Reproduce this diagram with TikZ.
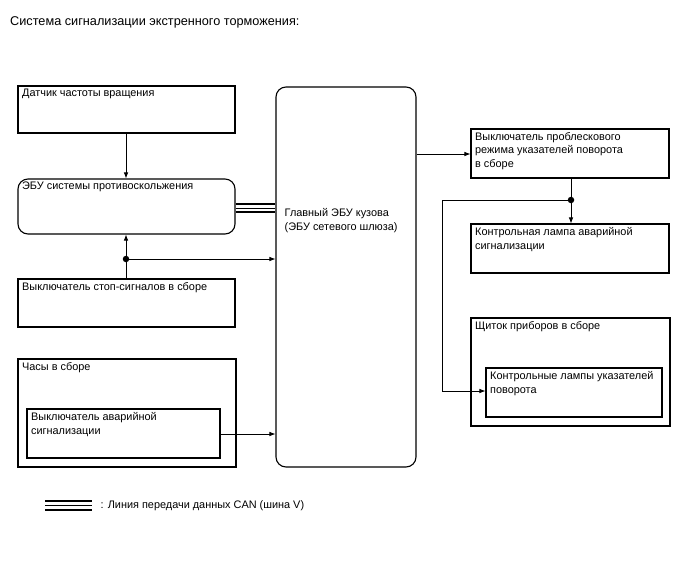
\documentclass[tikz,border=0pt]{standalone}
\usepackage{fontspec}
\setmainfont{Liberation Sans}
\usetikzlibrary{positioning,arrows.meta,calc}
\newcommand{\boxfont}{\fontsize{10.9}{13.8}\selectfont}
\tikzset{
  box/.style={draw, line width=1.1pt, inner sep=0pt},
  ecu/.style={box, rounded corners=10pt},
  lbl/.style={font=\boxfont, anchor=north west, align=left, inner sep=3pt, xshift=1.5pt, yshift=-0.5pt},
  conn/.style={-{Latex[length=6pt,width=4.5pt]}, line width=0.7pt},
  wire/.style={line width=0.7pt},
  canthick/.style={line width=1.4pt},
  canthin/.style={line width=0.8pt},
  jdot/.style={circle, fill, inner sep=0pt, minimum size=6.5pt},
}

\begin{document}
\begin{tikzpicture}[x=1pt, y=-1pt]
\useasboundingbox (0,0) rectangle (688,560);

%% ---- title
\node[anchor=west, inner sep=0pt, font=\fontsize{12.7}{14}\selectfont] (title) at (10,22)
  {Система сигнализации экстренного торможения:};

%% ---- left column
\node[box, minimum width=217pt, minimum height=47pt,
  label={[lbl]north west:Датчик частоты вращения}] (dat) at (126.5,109.5) {};
\node[ecu, minimum width=217pt, minimum height=55pt,
  label={[lbl]north west:ЭБУ системы противоскольжения}] (abs) at (126.5,206.5) {};
\node[box, minimum width=217pt, minimum height=48pt,
  label={[lbl]north west:Выключатель стоп-сигналов в сборе}] (stop) at (126.5,303) {};
\node[box, minimum width=218pt, minimum height=108pt,
  label={[lbl]north west:Часы в сборе}] (clock) at (127,413) {};
\node[box, minimum width=193pt, minimum height=49pt,
  label={[lbl]north west:Выключатель аварийной\\сигнализации}] (haz) at (123.5,433.5) {};

%% ---- gateway
\node[ecu, minimum width=140pt, minimum height=380pt] (main) at (346,277) {};
\node[lbl, anchor=west] (mainT) at (280,220)
  {Главный ЭБУ кузова\\(ЭБУ сетевого шлюза)};

%% ---- right column
\node[box, minimum width=198pt, minimum height=49pt,
  label={[lbl]north west:Выключатель проблескового\\режима указателей поворота\\в сборе}] (flash) at (570,153.5) {};
\node[box, minimum width=198pt, minimum height=49pt,
  label={[lbl]north west:Контрольная лампа аварийной\\сигнализации}] (lamp) at (570,248.5) {};
\node[box, minimum width=199pt, minimum height=108pt,
  label={[lbl]north west:Щиток приборов в сборе}] (panel) at (570.5,372) {};
\node[box, minimum width=176pt, minimum height=49pt,
  label={[lbl]north west:Контрольные лампы указателей\\поворота}] (tsl) at (574,392.5) {};

%% ---- junctions
\node[jdot] (j1) at (126,259) {};
\node[jdot] (j2) at (571,200) {};
\coordinate (bend1) at (442,200);
\coordinate (bend2) at (442,391);

%% ---- connectors
\draw[conn] (dat.south -| 126,0) -- (abs.north -| 126,0);
\draw[wire] (stop.north -| j1) -- (j1);
\draw[conn] (j1) -- (abs.south -| j1);
\draw[conn] (j1) -- (j1 -| main.west);
\draw[conn] (haz.east |- 0,434) -- (main.west |- 0,434);
\draw[conn] (main.east |- 0,154) -- (flash.west |- 0,154);
\draw[conn] (flash.south -| j2) -- (lamp.north -| j2);
\draw[conn] (j2) -- (bend1) -- (bend2) -- (tsl.west |- bend2);

%% ---- CAN bus
\draw[canthick] (abs.east |- 0,204) -- (main.west |- 0,204);
\draw[canthin]  (abs.east |- 0,208) -- (main.west |- 0,208);
\draw[canthick] (abs.east |- 0,212) -- (main.west |- 0,212);

%% ---- legend
\coordinate (lgA) at (45,505.5);
\coordinate (lgB) at (92,505.5);
\draw[canthick] ($(lgA)+(0,-4.5)$) -- ($(lgB)+(0,-4.5)$);
\draw[canthin]  (lgA) -- (lgB);
\draw[canthick] ($(lgA)+(0,4.5)$) -- ($(lgB)+(0,4.5)$);
\node[lbl, anchor=west, inner sep=0pt, xshift=0pt, yshift=0pt] (lgT) at (99,505.5)
  {: Линия передачи данных CAN (шина V)};
\end{tikzpicture}
\end{document}
